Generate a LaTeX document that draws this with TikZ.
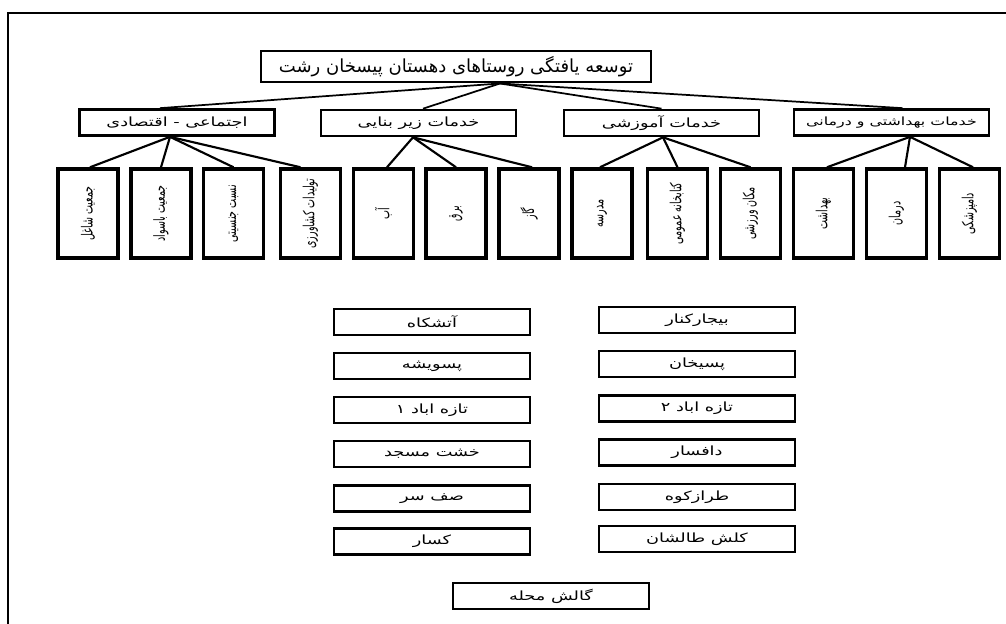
\documentclass[tikz,border=0pt]{standalone}
\usepackage{fontspec}
\newfontfamily\fa[Script=Arabic]{DejaVu Sans}
\newfontfamily\fawide[Script=Arabic,FakeStretch=1.4]{DejaVu Sans}
\newfontfamily\fanarrow[Script=Arabic,FakeStretch=0.62]{DejaVu Sans}
\TeXXeTstate=1
\usetikzlibrary{calc}
\newcommand{\prs}[1]{{\beginR #1\endR}}
\tikzset{
  box/.style 2 args={draw, fill=white, line width=2pt, inner sep=0pt,
    minimum width=#1*0.75pt, minimum height=#2*0.75pt},
  titlebox/.style={box={390}{31}, line width=2.2pt, font=\fa\fontsize{13.5}{15}\selectfont},
  catbox/.style={box={195}{26}, font=\fawide\fontsize{9.5}{11}\selectfont},
  vbox/.style={box={60}{89}, line width=2.6pt},
  vtext/.style={rotate=90, inner sep=0pt, font=\fanarrow\fontsize{11.5}{13}\selectfont},
  lbox/.style={box={196}{26}, font=\fawide\fontsize{9.5}{11}\selectfont},
  tconn/.style={line width=1.3pt},
  conn/.style={line width=1.6pt},
}
\begin{document}
\begin{tikzpicture}[x=0.75pt,y=-0.75pt]
\useasboundingbox (0,0) rectangle (1006,624);
% frame
\draw[line width=1pt] (8,624) -- (8,13) -- (1006,13);
% title
\node[titlebox] (title) at (456,66.5) {\prs{توسعه یافتگی روستاهای دهستان پیسخان رشت}};
\coordinate (T) at ($(title.south west)!0.612!(title.south east)$);
% categories
\node[catbox] (c1) at (177,122.5) {\prs{اجتماعی - اقتصادی}};
\node[catbox] (c2) at (418.5,123) {\prs{خدمات زیر بنایی}};
\node[catbox] (c3) at (661.5,123) {\prs{خدمات آموزشی}};
\node[catbox, font=\fawide\fontsize{8.5}{10}\selectfont] (c4) at (891.5,122.5) {\prs{خدمات بهداشتی و درمانی}};
\draw[tconn] (T) -- ($(c1.north)+(-17,0)$);
\draw[tconn] (T) -- ($(c2.north)+(4.5,0)$);
\draw[tconn] (T) -- (c3.north);
\draw[tconn] (T) -- ($(c4.north)+(11,0)$);
% vertical boxes
\node[vbox] (v1) at (88,213.5) {};
\node[vbox] (v2) at (161,213.5) {};
\node[vbox] (v3) at (233.5,213.5) {};
\node[vbox] (v4) at (310.5,213.5) {};
\node[vbox] (v5) at (383.5,213.5) {};
\node[vbox] (v6) at (456,213.5) {};
\node[vbox] (v7) at (529,213.5) {};
\node[vbox] (v8) at (602,213.5) {};
\node[vbox] (v9) at (677.5,213.5) {};
\node[vbox] (v10) at (750.5,213.5) {};
\node[vbox] (v11) at (823.5,213.5) {};
\node[vbox] (v12) at (896.5,213.5) {};
\node[vbox] (v13) at (969.5,213.5) {};
\node[vtext] (v1t) at (v1) {\prs{جمعیت شاغل}};
\node[vtext] (v2t) at (v2) {\prs{جمعیت باسواد}};
\node[vtext] (v3t) at (v3) {\prs{نسبت جنسیتی}};
\node[vtext] (v4t) at (v4) {\prs{تولیدات کشاورزی}};
\node[vtext] (v5t) at (v5) {\prs{آب}};
\node[vtext] (v6t) at (v6) {\prs{برق}};
\node[vtext] (v7t) at (v7) {\prs{گاز}};
\node[vtext] (v8t) at (v8) {\prs{مدرسه}};
\node[vtext] (v9t) at (v9) {\prs{کتابخانه عمومی}};
\node[vtext] (v10t) at (v10) {\prs{مکان ورزشی}};
\node[vtext] (v11t) at (v11) {\prs{بهداشت}};
\node[vtext] (v12t) at (v12) {\prs{درمان}};
\node[vtext] (v13t) at (v13) {\prs{دامپزشکی}};
\coordinate (c1b) at ($(c1.south)+(-7,0)$);
\coordinate (c2b) at ($(c2.south)+(-5.5,0)$);
\coordinate (c3b) at ($(c3.south)+(1.5,0)$);
\coordinate (c4b) at ($(c4.south)+(18.5,0)$);
\draw[conn] (c1b) -- ($(v1.north)+(2,0)$);
\draw[conn] (c1b) -- (v2.north);
\draw[conn] (c1b) -- (v3.north);
\draw[conn] (c1b) -- ($(v4.north)+(-10,0)$);
\draw[conn] (c2b) -- ($(v5.north)+(3.5,0)$);
\draw[conn] (c2b) -- (v6.north);
\draw[conn] (c2b) -- ($(v7.north)+(3,0)$);
\draw[conn] (c3b) -- ($(v8.north)+(-2,0)$);
\draw[conn] (c3b) -- (v9.north);
\draw[conn] (c3b) -- (v10.north);
\draw[conn] (c4b) -- ($(v11.north)+(3.5,0)$);
\draw[conn] (c4b) -- ($(v12.north)+(8.5,0)$);
\draw[conn] (c4b) -- ($(v13.north)+(3.5,0)$);
% village list
\node[lbox] (l1) at (432,322) {\prs{آتشکاه}};
\node[lbox] (l2) at (432,366) {\prs{پسویشه}};
\node[lbox] (l3) at (432,410) {\prs{تازه اباد ۱}};
\node[lbox] (l4) at (432,454) {\prs{خشت مسجد}};
\node[lbox] (l5) at (432,498.5) {\prs{صف سر}};
\node[lbox] (l6) at (432,541.5) {\prs{کسار}};
\node[lbox] (r1) at (697,320) {\prs{بیجارکنار}};
\node[lbox] (r2) at (697,364) {\prs{پسیخان}};
\node[lbox] (r3) at (697,408.5) {\prs{تازه اباد ۲}};
\node[lbox] (r4) at (697,452.5) {\prs{دافسار}};
\node[lbox] (r5) at (697,497) {\prs{طرازکوه}};
\node[lbox] (r6) at (697,539) {\prs{کلش طالشان}};
\node[lbox] (b1) at (551,596) {\prs{گالش محله}};
\end{tikzpicture}
\end{document}
